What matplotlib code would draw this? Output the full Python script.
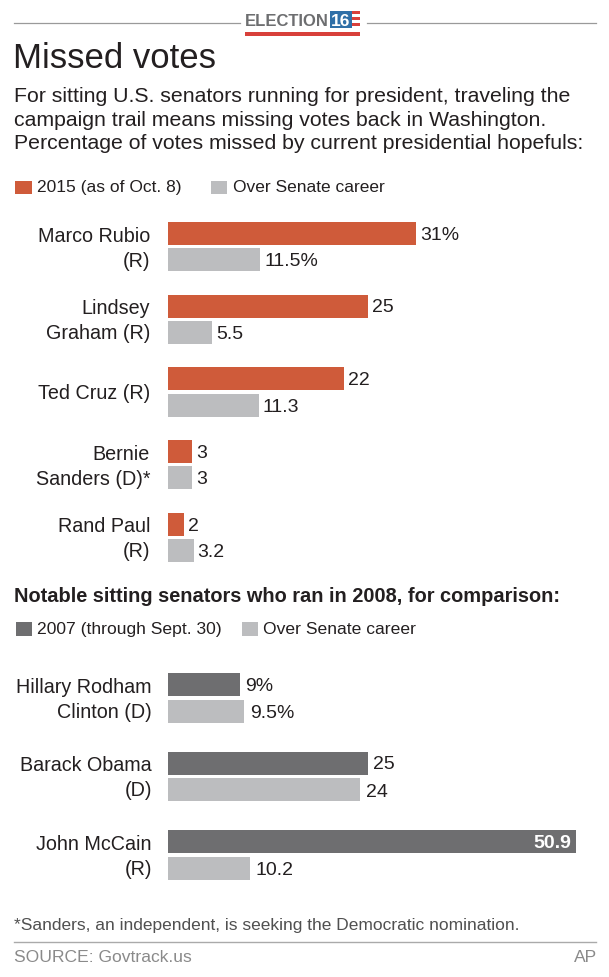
import matplotlib.pyplot as plt
from matplotlib.patches import Rectangle

plt.rcParams['font.family'] = ['Liberation Sans', 'DejaVu Sans']

# --- data ---
names_2016 = ["Marco Rubio\n(R)", "Lindsey\nGraham (R)", "Ted Cruz (R)",
              "Bernie\nSanders (D)*", "Rand Paul\n(R)"]
missed_2015 = [31, 25, 22, 3, 2]
career_2016 = [11.5, 5.5, 11.3, 3, 3.2]
labels_2015 = ["31%", "25", "22", "3", "2"]
labels_c2016 = ["11.5%", "5.5", "11.3", "3", "3.2"]

names_2008 = ["Hillary Rodham\nClinton (D)", "Barack Obama\n(D)", "John McCain\n(R)"]
missed_2007 = [9, 25, 50.9]
career_2008 = [9.5, 24, 10.2]
labels_2007 = ["9%", "25", "50.9"]
labels_c2008 = ["9.5%", "24", "10.2"]

ORANGE = "#cf5b3a"
LGRAY = "#bcbdbf"
DGRAY = "#6e6e70"
TXT = "#231f20"

W, H = 609, 978
fig = plt.figure(figsize=(W / 100, H / 100), dpi=100)


def fx(px):
    return px / W


def fy(py):
    return 1 - py / H


def ftext(x, y, s, **kw):
    kw.setdefault("color", TXT)
    kw.setdefault("va", "center")
    fig.text(fx(x), fy(y), s, **kw)


def box(x, y, w, h, color):
    fig.patches.append(Rectangle((fx(x), fy(y + h)), w / W, h / H,
                                 transform=fig.transFigure, color=color, lw=0))


def hline(x0, x1, y, color, lw=1.0):
    fig.add_artist(plt.Line2D([fx(x0), fx(x1)], [fy(y), fy(y)],
                              transform=fig.transFigure, color=color, lw=lw))


# --- header logo ---
hline(14, 240, 24, "#9a9a9a", 0.9)
hline(367, 596, 24, "#9a9a9a", 0.9)
ftext(245, 21.5, "ELECTION", fontsize=12, fontweight="bold", color="#6d6e70",
      ha="left")
box(330, 12, 22, 17, "#2f6fa7")
ftext(341, 21, "16", fontsize=12.5, fontweight="bold", color="white", ha="center")
for k in range(3):
    box(352, 12 + k * 6, 8, 3, "#d8403a")
box(245, 33, 115, 4, "#d8403a")

# --- titles ---
ftext(13, 59, "Missed votes", fontsize=25, ha="left")
sub = ("For sitting U.S. senators running for president, traveling the\n"
       "campaign trail means missing votes back in Washington.\n"
       "Percentage of votes missed by current presidential hopefuls:")
ftext(14, 120, sub, fontsize=15.3, ha="left", linespacing=1.28)

# --- legends ---
box(15, 182, 17, 13, ORANGE)
ftext(37, 188, "2015 (as of Oct. 8)", fontsize=12.5, ha="left")
box(211, 182, 16, 13, LGRAY)
ftext(233, 188, "Over Senate career", fontsize=12.5, ha="left")

ftext(14, 596, "Notable sitting senators who ran in 2008, for comparison:",
      fontsize=14.45, fontweight="bold", ha="left")
box(16, 623, 16, 14, DGRAY)
ftext(37, 630, "2007 (through Sept. 30)", fontsize=12.6, ha="left")
box(242, 623, 16, 14, LGRAY)
ftext(263, 630, "Over Senate career", fontsize=12.6, ha="left")

# --- bar axes (x: 8.016 px per percentage point) ---
PX_PER = 8.016
X0 = 168


def make_ax(ytop, ybot):
    ax = fig.add_axes([fx(X0), fy(ybot), (W - X0) / W, (ybot - ytop) / H])
    ax.set_xlim(0, (W - X0) / PX_PER)
    ax.set_ylim(ybot, ytop)
    ax.axis("off")
    return ax


BH = 23
VSZ = 14
LSZ = 14.2
ax1 = make_ax(200, 580)
step1 = 72.7
for i, name in enumerate(names_2016):
    y_a = 234.3 + i * step1
    y_b = y_a + 26.5
    ax1.barh(y_a, missed_2015[i], height=BH, color=ORANGE, left=0)
    ax1.barh(y_b, career_2016[i], height=BH, color=LGRAY, left=0)
    ax1.text(missed_2015[i] + 0.5, y_a + 1, labels_2015[i], fontsize=VSZ,
             color=TXT, va="center", ha="left")
    ax1.text(career_2016[i] + 0.5, y_b + 1, labels_c2016[i], fontsize=VSZ,
             color=TXT, va="center", ha="left")
    ftext(150, (y_a + y_b) / 2 + 1, name, fontsize=LSZ, ha="right",
          multialignment="right", linespacing=1.4)

ax2 = make_ax(650, 900)
step2 = 78.5
for i, name in enumerate(names_2008):
    y_a = 685.5 + i * step2
    y_b = y_a + 26.5
    ax2.barh(y_a, missed_2007[i], height=BH, color=DGRAY, left=0)
    ax2.barh(y_b, career_2008[i], height=BH, color=LGRAY, left=0)
    if missed_2007[i] > 40:
        ax2.text(missed_2007[i] - 0.6, y_a + 1, labels_2007[i], fontsize=VSZ,
                 color="white", fontweight="bold", va="center", ha="right")
    else:
        ax2.text(missed_2007[i] + 0.6, y_a + 1, labels_2007[i], fontsize=VSZ,
                 color=TXT, va="center", ha="left")
    ax2.text(career_2008[i] + 0.7, y_b + 2, labels_c2008[i], fontsize=VSZ,
             color=TXT, va="center", ha="left")
    ftext(152, (y_a + y_b) / 2 + 1, name, fontsize=LSZ, ha="right",
          multialignment="right", linespacing=1.4)

# --- footer ---
ftext(14, 926, "*Sanders, an independent, is seeking the Democratic nomination.",
      fontsize=12.5, ha="left", color="#505050")
hline(14, 596, 943, "#aaaaaa", 1.0)
ftext(14, 958, "SOURCE: Govtrack.us", fontsize=12.6, ha="left", color="#8a8a8a")
ftext(597, 958, "AP", fontsize=12.6, ha="right", color="#8a8a8a")

fig.savefig("out.png", dpi=100, facecolor="white")
